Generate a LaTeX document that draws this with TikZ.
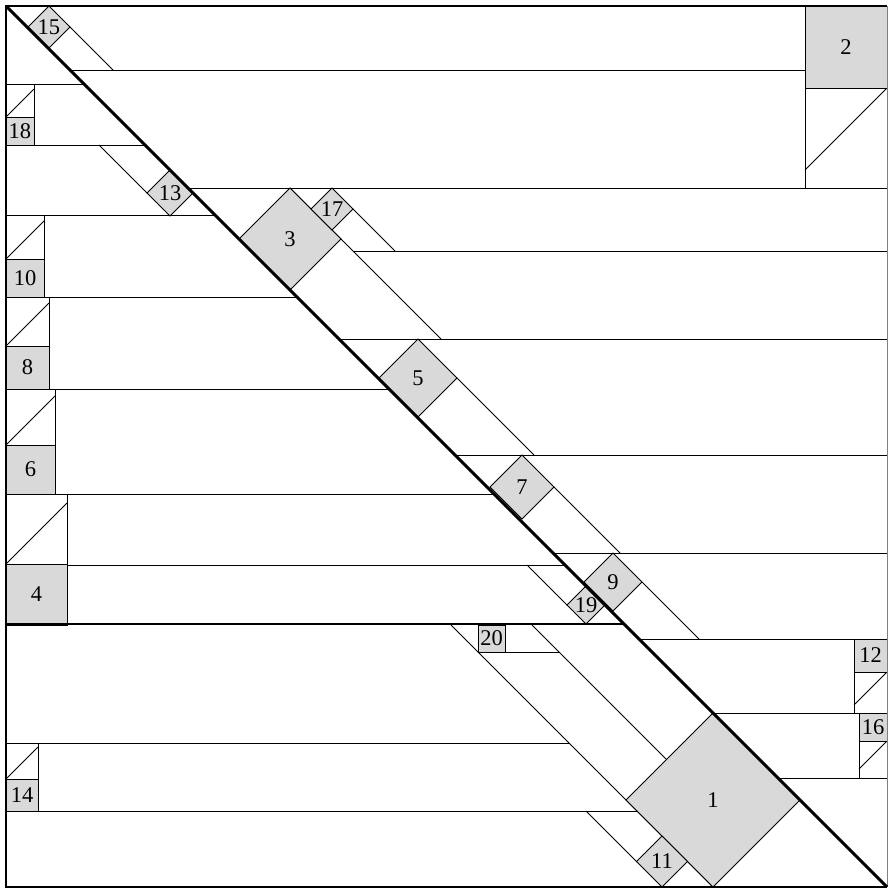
\documentclass[tikz,border=0pt]{standalone}
\usepackage{fontspec}
\setmainfont{Liberation Serif}
\begin{document}
\begin{tikzpicture}[x=1pt,y=-1pt]
        \tikzstyle{thin line}=[line width=0.8pt]
        \tikzstyle{thick line}=[line width=2.9pt]
        \tikzstyle{square}=[thin line,fill=gray!30]
        \tikzstyle{every node}=[font=\fontsize{22.5}{25}\selectfont,inner sep=0pt]
        \useasboundingbox (0,0) rectangle (889,889);
        % horizontal strips
        \foreach \y/\a/\b in {70/70/805, 84/6/84, 145/6/145, 188/188/887, 215/6/215,
                251/353/887, 297/6/297, 339/339/887, 389/6/389, 455/455/887,
                494/6/494, 553/553/887, 565/67/565, 639/639/854, 652/505/559,
                713/713/887, 743/6/569, 778/778/887, 811/6/637}
            \draw[thin line] (\a,\y) -- (\b,\y);
        % slanted strips
        \foreach \xa/\ya/\xb/\yb in {70/27/113/70, 99/145/147/193, 290/188/441/339,
                353/209/395/251, 457/378/534/455, 554/487/620/553, 527/565/567/605,
                642/582/699/639, 451/625/713/887, 532/625/666/759, 586/811/637/862}
            \draw[thin line] (\xa,\ya) -- (\xb,\yb);
        % squares on the left side
        \foreach \n/\s/\t/\b in {18/28/117/84, 10/38/259/215, 8/43/346/297,
                6/49/445/389, 4/61/564/494, 14/32/779/743} {
            \draw[thin line] (6,\t) -- ++(\s,-\s);
            \draw[thin line] (6+\s,\t) -- (6+\s,\b);
            \filldraw[square] (6,\t) rectangle ++(\s,\s);
            \node (sq\n) at (6+\s/2,\t+\s/2) {\n};
        }
        % squares on the right side
        \foreach \n/\s/\t/\b in {2/82/6/188, 12/33/639/713, 16/28/713/778} {
            \draw[thin line] (887,\t+\s) -- ++(-\s,\s);
            \draw[thin line] (887-\s,\t+\s) -- (887-\s,\b);
            \filldraw[square] (887-\s,\t) rectangle ++(\s,\s);
            \node (sq\n) at (887-\s/2,\t+\s/2) {\n};
        }
        \filldraw[square] (478,625) rectangle (505,652);
        \node (sq20) at (491.5,638.5) {20};
        % tilted squares
        \foreach \n/\x/\y/\h in {15/49/6/21, 13/170/170/23, 3/290/188/51, 17/332/188/21,
                5/418/339/39, 7/522/455/32, 9/613/553/29, 19/586/586/19,
                1/713/713/87, 11/662/836/25.5} {
            \filldraw[square] (\x,\y) -- ++(\h,\h) -- ++(-\h,\h) -- ++(-\h,-\h) -- cycle;
            \node (sq\n) at (\x,\y+\h) {\n};
        }
        % frame and main diagonal
        \draw[thin line,gray] (887,6) -- (887,887);
        \draw[thick line] (887,6) -- (6,6) -- (6,887) -- (887,887);
        \draw[thick line] (6,6) -- (887,887);
        \draw[thick line] (6,624) -- (624,624);
    \end{tikzpicture}
\end{document}
